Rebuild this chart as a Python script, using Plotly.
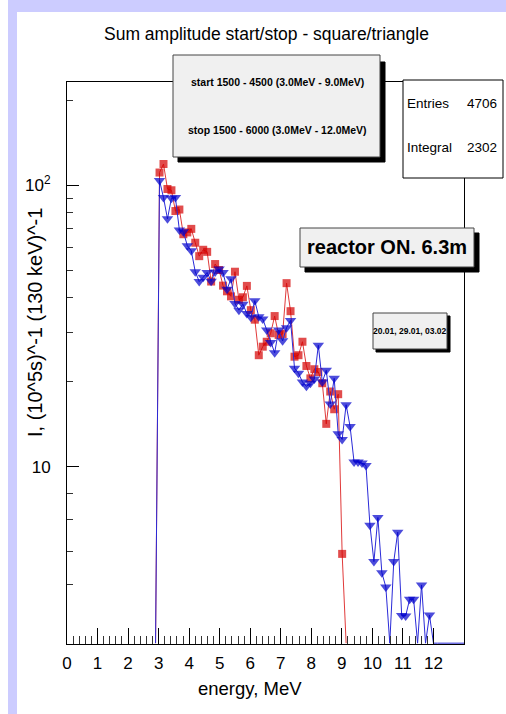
import numpy as np
import plotly.graph_objects as go

# ---------------- data ----------------
bin_width = 0.13          # MeV (130 keV bins)
first_center = 2.90       # MeV, centre of first (empty) bin

# start 1500-4500 (squares, red): counts per bin, first and last bins empty
red_counts = [0, 111, 119, 97, 96, 81, 82, 67, 68, 70, 62.5, 56, 59, 58, 45.5,
              52.5, 50, 44, 42, 40.3, 49.3, 39.2, 40, 43.9, 36, 33.3, 24.9,
              26.7, 27.8, 29.8, 34.3, 29.4, 29.6, 44.9, 35.7, 24.6, 24.9, 27.8,
              22.8, 20.6, 22.2, 21.7, 19.8, 14.2, 18.5, 16, 18.1, 4.9, 0]

# stop 1500-6000 (triangles, blue)
blue_counts = [0, 104, 90.4, 76, 90, 90.4, 69.4, 68.4, 61, 58.5, 49.3, 45.5,
               47.1, 49, 45.6, 49.2, 50.4, 49, 42.7, 46.5, 38, 36, 37.8, 35,
               34, 38.9, 34.1, 33.5, 30.6, 27.6, 25.4, 30.6, 28, 31.2, 33.1,
               22.4, 21.5, 20, 19.3, 19.8, 20.5, 27, 20, 22, 16.7, 20.6, 13.1,
               12.5, 16.6, 13.9, 10.4, 10.4, 10.3, 10.1, 6.2, 4.6, 6.6, 4.2,
               3.74, 0, 4.6, 5.85, 2.96, 2.95, 3.38, 3.38, 0, 3.8, 0, 2.97, 0,
               0, 0, 0, 0, 0, 0, 0, 0]

x_tick_labels = [str(i) for i in range(13)]
y_tick_vals = [10, 100]
y_tick_text = ["10", "10<sup>2</sup>"]
y_minor_vals = [3.8, 5, 6.5, 8, 20, 30, 40, 50, 60, 70, 80, 90, 200]

title_text = "Sum amplitude start/stop - square/triangle"
x_title = "energy, MeV"
y_title = "I, (10^5s)^-1 (130 keV)^-1"
pave_lines = ["start 1500 - 4500 (3.0MeV - 9.0MeV)",
              "stop 1500 - 6000 (3.0MeV - 12.0MeV)"]
stats = [("Entries", "4706"), ("Integral", "2302")]
label_big = "reactor ON. 6.3m"
label_dates = "20.01, 29.01, 03.02"

# ---------------- layout geometry ----------------
W, H = 506, 714
L, R, T, B = 67, 464, 82, 644
XR = [0, 13]
YR = [0.370, 2.367]
FONT = "Liberation Sans Narrow, Liberation Sans, Arial, sans-serif"


def px(x):
    return (x - L) / (R - L)


def py(y):
    return (B - y) / (B - T)


floor_val = 10 ** (YR[0] + 0.003)


def prep(counts):
    c = np.array(counts, dtype=float)
    e = first_center + bin_width * np.arange(len(c))
    y = np.where(c > 0, c, floor_val)
    sizes = np.where(c > 0, 1, 0)
    return e, y, sizes


fig = go.Figure()

e_r, y_r, s_r = prep(red_counts)
e_b, y_b, s_b = prep(blue_counts)

fig.add_trace(go.Scatter(x=e_r, y=y_r, mode="lines+markers",
                         line=dict(color="#e03a3a", width=1),
                         marker=dict(symbol="square", size=(s_r * 8).tolist(),
                                     color="#d40000", line=dict(width=0)),
                         showlegend=False, cliponaxis=True, hoverinfo="skip"))
fig.add_trace(go.Scatter(x=e_b, y=y_b, mode="lines+markers",
                         line=dict(color="#2a2ad8", width=1),
                         marker=dict(symbol="triangle-down", size=(s_b * 10).tolist(),
                                     color="#0000cc", line=dict(width=0)),
                         showlegend=False, cliponaxis=True, hoverinfo="skip"))

shapes = []


def rect(x0, y0, x1, y1, fill, line="black", lw=1, layer="above"):
    shapes.append(dict(type="rect", xref="paper", yref="paper",
                       x0=px(x0), x1=px(x1), y0=py(y1), y1=py(y0),
                       fillcolor=fill, line=dict(color=line, width=lw),
                       layer=layer))


# lavender canvas border bands
rect(8, 0, W, 12, "#ccccff", line="rgba(0,0,0,0)", lw=0)
rect(8, 0, 17, H, "#ccccff", line="rgba(0,0,0,0)", lw=0)

# start/stop pave with shadow
rect(178, 62, 385, 162, "black", line="black")
rect(173, 55, 380, 157, "#f0f0f0", line="#444444")
# stats box
rect(403, 80, 503, 178, "white", line="black")
# reactor label
rect(305, 233, 479, 272, "black", line="black")
rect(300, 228, 474, 267, "#f0f0f0", line="#444444")
# dates label
rect(376, 316, 450, 352, "black", line="black")
rect(373, 313, 447, 349, "#f0f0f0", line="#444444")

ann = []


def text(x, y, s, size, xanchor="center", bold=False, angle=0):
    ann.append(dict(xref="paper", yref="paper", x=px(x), y=py(y),
                    text=("<b>%s</b>" % s) if bold else s,
                    showarrow=False, xanchor=xanchor, yanchor="middle",
                    textangle=angle,
                    font=dict(family=FONT, size=size, color="black")))


text(266, 34, title_text, 17.5)
text(277, 82, pave_lines[0], 10.5, bold=True)
text(277, 130, pave_lines[1], 10.5, bold=True)
text(405, 103, stats[0][0], 13.5, xanchor="left")
text(499, 103, stats[0][1], 13.5, xanchor="right")
text(405, 147, stats[1][0], 13.5, xanchor="left")
text(499, 147, stats[1][1], 13.5, xanchor="right")
text(387, 247, label_big, 20, bold=True)
text(410, 331, label_dates, 8.5, bold=True)
text(250, 688, x_title, 18.5)
text(35, 323, y_title, 20, angle=-90)

x_minor = [v for v in np.round(np.arange(0.2, 12.0, 0.2), 1) if abs(v - round(v)) > 1e-6]

fig.update_layout(
    width=W, height=H,
    margin=dict(l=L, r=W - R, t=T, b=H - B, pad=0),
    paper_bgcolor="white", plot_bgcolor="white",
    shapes=shapes, annotations=ann, hovermode=False,
    xaxis=dict(range=XR, showline=True, mirror=True, linecolor="black",
               linewidth=1, showgrid=False, zeroline=False,
               ticks="inside", ticklen=16, tickwidth=1, tickcolor="black",
               tickmode="array", tickvals=list(range(13)),
               ticktext=x_tick_labels, ticklabelstandoff=4,
               tickfont=dict(family=FONT, size=17, color="black"),
               minor=dict(ticks="inside", ticklen=8, tickwidth=1,
                          tickcolor="#333333", tickmode="array",
                          tickvals=x_minor, showgrid=False)),
    yaxis=dict(type="log", range=YR, showline=True, mirror=True,
               linecolor="black", linewidth=1, showgrid=False, zeroline=False,
               ticks="inside", ticklen=12, tickwidth=1, tickcolor="black",
               tickmode="array", tickvals=y_tick_vals, ticktext=y_tick_text,
               ticklabelstandoff=12,
               tickfont=dict(family=FONT, size=17, color="black"),
               minor=dict(ticks="inside", ticklen=6, tickwidth=1,
                          tickcolor="#333333", tickmode="array",
                          tickvals=y_minor_vals, showgrid=False)),
)

fig.write_html("out.html",
               config={"displayModeBar": False, "staticPlot": True},
               post_script="document.body.style.margin='0';"
                           "document.body.style.overflow='hidden';")
